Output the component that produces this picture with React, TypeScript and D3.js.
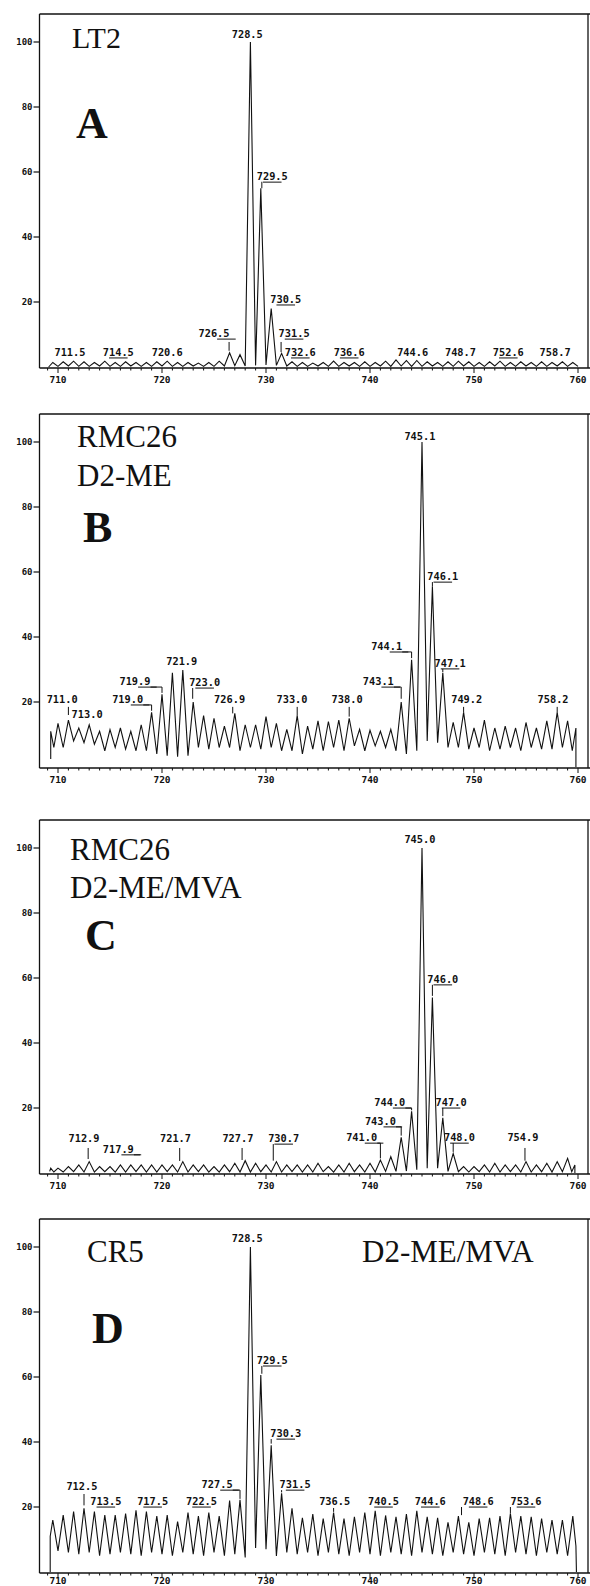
import * as d3 from "d3";

// m/z axis (shared by all four spectra)
const xTicks = [710, 720, 730, 740, 750, 760];
const yTicks = [20, 40, 60, 80, 100];

// ---- A: LT2 (peaks on the .5 grid) ----
const aPeakMz = d3.range(709.5, 760, 1);
const aPeaks = [
  1.4, 1.6, 1.8, 1.6, 1.4, 1.8, 1.4, 1.6, 1.4, 1.4,
  1.6, 1.8, 1.4, 1.4, 1.2, 1.4, 1.8, 4.4, 3.8, 100,
  55, 18, 4.2, 1.6, 1.4, 1.2, 1.4, 1.8, 1.4, 1.4,
  1.6, 1.4, 1.8, 2.2, 2.0, 2.0, 1.6, 1.4, 1.6, 1.8,
  1.6, 1.4, 1.6, 1.8, 1.4, 1.6, 1.4, 1.6, 1.4, 1.6,
  1.4,
];
const aValleys = [
  0.2, 0.3, 0.2, 0.2, 0.3, 0.2, 0.2, 0.3, 0.2, 0.2,
  0.3, 0.2, 0.2, 0.3, 0.2, 0.2, 0.3, 0.4, 0.3, 0.5,
  0.6, 0.5, 0.3, 0.2, 0.2, 0.3, 0.2, 0.2, 0.3, 0.2,
  0.2, 0.3, 0.2, 0.3, 0.2, 0.2, 0.3, 0.2, 0.2, 0.3,
  0.2, 0.2, 0.3, 0.2, 0.2, 0.3, 0.2, 0.2, 0.3, 0.2,
];
const aStart = [[709.1, 0]];
const aEnd = [[760.0, 0.2]];
const aLabels = [
  { t: "728.5", x: 728.2, y: 101.2 },
  { t: "7[29].5", x: 730.6, y: 57.5, c: [[729.6, 57], [729.6, 55]] },
  { t: "7[30].5", x: 731.9, y: 19.7 },
  { t: "726[.5]", x: 725.0, y: 9.2, c: [[726.45, 7.7], [726.45, 5.0]] },
  { t: "7[31].5", x: 732.7, y: 9.2, c: [[731.45, 7.7], [731.45, 4.6]] },
  { t: "711.5", x: 711.15, y: 3.4 },
  { t: "7[14].5", x: 715.8, y: 3.4 },
  { t: "720.6", x: 720.5, y: 3.4 },
  { t: "7[32].6", x: 733.3, y: 3.4 },
  { t: "7[36].6", x: 738.0, y: 3.4 },
  { t: "744.6", x: 744.1, y: 3.4 },
  { t: "748.7", x: 748.7, y: 3.4 },
  { t: "7[52].6", x: 753.3, y: 3.4 },
  { t: "758.7", x: 757.8, y: 3.4 },
];

// ---- B: RMC26 D2-ME (peaks on the integer grid) ----
const bPeakMz = d3.range(710, 760, 1);
const bPeaks = [
  13.4, 14.4, 12, 13, 11, 11.5, 12, 11, 13, 16.8,
  22.4, 29, 29.8, 20, 15.8, 15, 12.6, 16.5, 13, 13,
  15.5, 13.4, 11.6, 15.8, 12.6, 14.2, 14, 14.4, 15, 11.6,
  11.3, 11, 11.6, 20, 33, 100, 55.5, 29, 13.7, 16.8,
  12, 14.4, 12, 12.6, 12, 13.7, 12, 14.2, 16.8, 14.2,
];
const bValleys = [
  6, 8, 7.5, 7, 5, 6, 5.5, 5, 5,
  4, 3.5, 3.2, 3.5, 6, 5.5, 6, 6, 5, 6,
  5.5, 6, 5, 5, 4, 5.5, 5, 6, 5, 6.5,
  5, 6.5, 6, 5, 4, 5, 8, 7.5, 6, 6,
  5.5, 6, 5, 5.5, 6, 5, 6, 5.5, 5.5, 6,
];
const bStart = [[709.3, 2.5], [709.3, 11], [709.6, 6]];
const bEnd = [[759.45, 5], [759.8, 12], [759.8, 0]];
const bLabels = [
  { t: "711.0", x: 710.4, y: 19.7, c: [[711, 18.5], [711, 16]] },
  { t: "713.0", x: 712.8, y: 15.1 },
  { t: "719[.0]", x: 716.7, y: 19.7, c: [[718.2, 19.1], [719, 19.1], [719, 17.3]] },
  { t: "719[.9]", x: 717.4, y: 25.2, c: [[718.9, 24.6], [720, 24.6], [720, 22.8]] },
  { t: "721.9", x: 721.9, y: 31.4 },
  { t: "7[23].0", x: 724.1, y: 24.9, c: [[722.95, 24.3], [722.95, 21]] },
  { t: "726.9", x: 726.5, y: 19.7, c: [[726.8, 18.5], [726.8, 16.5]] },
  { t: "733.0", x: 732.5, y: 19.7, c: [[733, 18.5], [733, 15.8]] },
  { t: "738.0", x: 737.8, y: 19.7, c: [[738, 18.5], [738, 15.5]] },
  { t: "743[.1]", x: 740.8, y: 25.2, c: [[742.3, 24.6], [743, 24.6], [743, 21]] },
  { t: "744[.1]", x: 741.6, y: 36, c: [[743.1, 35.4], [744, 35.4], [744, 33.5]] },
  { t: "745.1", x: 744.8, y: 100.6 },
  { t: "7[46].1", x: 747.0, y: 57.5, c: [[746, 56.9], [746, 55.5]] },
  { t: "7[47].1", x: 747.7, y: 30.8, c: [[747, 30.2], [747, 29.2]] },
  { t: "749.2", x: 749.3, y: 19.7, c: [[749, 18.5], [749, 16.8]] },
  { t: "758.2", x: 757.6, y: 19.7, c: [[758, 18.5], [758, 16.8]] },
];

// ---- C: RMC26 D2-ME/MVA ----
const cPeakMz = d3.range(710, 760, 1);
const cPeaks = [
  1.5, 2, 2.5, 3.5, 2, 2, 2.5, 2.5, 2.5, 2.5,
  2.5, 2.5, 3.5, 2.5, 2.5, 2, 2.5, 3, 3.8, 3,
  2.5, 3.5, 2.5, 2.5, 2.5, 3, 2, 2.5, 3, 2.5,
  3, 4, 5, 11, 19, 100, 54, 17, 6, 2,
  2, 2.5, 3, 2.5, 2.5, 3.5, 2.5, 3, 3.5, 4.5,
];
const cValleys = [
  0.3, 0.4, 0.3, 0.3, 0.4, 0.3, 0.3, 0.4, 0.3, 0.3,
  0.4, 0.3, 0.3, 0.4, 0.3, 0.3, 0.4, 0.3, 0.3, 0.4,
  0.3, 0.3, 0.4, 0.3, 0.3, 0.4, 0.3, 0.3, 0.4, 0.3,
  0.3, 0.5, 0.5, 0.6, 1, 1.5, 1.5, 0.5, 0.4, 0.3,
  0.4, 0.3, 0.3, 0.4, 0.3, 0.3, 0.4, 0.3, 0.4,
];
const cStart = [[709.2, 0.5], [709.3, 1.5], [709.6, 0.3]];
const cEnd = [[759.4, 0.4], [759.7, 2.5], [759.7, 0]];
const cLabels = [
  { t: "712.9", x: 712.5, y: 9.5, c: [[712.9, 7.7], [712.9, 4.3]] },
  { t: "717[.9]", x: 715.8, y: 6.2, c: [[717.3, 5.6], [718, 5.6]] },
  { t: "721.7", x: 721.3, y: 9.5, c: [[721.7, 7.7], [721.7, 3.7]] },
  { t: "727.7", x: 727.3, y: 9.5, c: [[727.7, 7.7], [727.7, 4]] },
  { t: "7[30].7", x: 731.7, y: 9.5, c: [[730.7, 8.9], [730.7, 3.8]] },
  { t: "741[.0]", x: 739.2, y: 9.8, c: [[740.7, 9.2], [741, 9.2], [741, 4.5]] },
  { t: "743[.0]", x: 741.0, y: 14.8, c: [[742.5, 14.2], [743, 14.2], [743, 11.5]] },
  { t: "744[.0]", x: 741.9, y: 20.6, c: [[743.4, 20], [744, 20], [744, 19.3]] },
  { t: "745.0", x: 744.8, y: 101.5 },
  { t: "7[46].0", x: 747.0, y: 58.5, c: [[746, 57.9], [746, 54.5]] },
  { t: "7[47].0", x: 747.8, y: 20.6, c: [[747, 20], [747, 17.5]] },
  { t: "7[48].0", x: 748.6, y: 9.8, c: [[748, 9.2], [748, 6.5]] },
  { t: "754.9", x: 754.7, y: 9.8, c: [[754.9, 7.7], [754.9, 3.8]] },
];

// ---- D: CR5 D2-ME/MVA (peaks on the .5 grid) ----
const dPeakMz = d3.range(709.5, 760, 1);
const dPeaks = [
  16, 17.5, 18.6, 19.6, 18.6, 17.5, 17.5, 18, 19, 18.6,
  17.2, 17.5, 15.5, 18.3, 17.2, 18.3, 17.2, 22, 22.2, 100,
  60.6, 39, 24.2, 19.6, 16.7, 17.8, 16.4, 18.3, 16.4, 17,
  18.3, 18.8, 17.4, 17, 17.8, 18.8, 17, 16.7, 15.3, 17.2,
  15.3, 16.4, 16.7, 17.2, 18, 17.2, 17, 16.4, 16, 16,
  17.2,
];
const dValleys = [
  6.5, 6, 5.5, 6, 5, 5.5, 6, 5.5, 5, 6,
  5.5, 5, 6, 5.5, 5, 6, 5, 5.5, 4.5, 7.4,
  7, 4.9, 6, 5.5, 6, 5, 6, 5.5, 5, 6,
  5.5, 5, 6, 5.5, 5, 6, 5.5, 5, 6, 5.5,
  5, 6, 5.5, 5, 6, 5.5, 5, 6, 5.5, 5,
];
const dStart = [[709.25, 0], [709.25, 11]];
const dEnd = [[759.8, 8], [759.85, 0]];
const dLabels = [
  { t: "728.5", x: 728.2, y: 101.5 },
  { t: "7[29].5", x: 730.6, y: 64, c: [[729.6, 63.4], [729.6, 61]] },
  { t: "7[30].3", x: 731.9, y: 41.5, c: [[730.5, 40.9], [730.5, 39.5]] },
  { t: "7[31].5", x: 732.8, y: 25.8, c: [[731.5, 25.2], [731.5, 24.5]] },
  { t: "712.5", x: 712.3, y: 25.2, c: [[712.5, 24], [712.5, 20.5]] },
  { t: "7[13].5", x: 714.6, y: 20.6 },
  { t: "7[17].5", x: 719.1, y: 20.6 },
  { t: "7[22].5", x: 723.8, y: 20.6 },
  { t: "727[.5]", x: 725.3, y: 25.8, c: [[726.8, 25.2], [727.5, 25.2], [727.5, 22.5]] },
  { t: "736.5", x: 736.6, y: 20.6, c: [[736.5, 19.7], [736.5, 18.5]] },
  { t: "7[40].5", x: 741.3, y: 20.6 },
  { t: "7[44].6", x: 745.8, y: 20.6 },
  { t: "7[48].6", x: 750.4, y: 20.6, c: [[748.8, 20], [748.8, 17.5]] },
  { t: "7[53].6", x: 755.0, y: 20.6, c: [[753.5, 20], [753.5, 18]] },
];

const panels = [
  {
    top: 42, peakMz: aPeakMz, peaks: aPeaks, valleys: aValleys, start: aStart, end: aEnd, labels: aLabels,
    titles: [
      { t: "LT2", x: 72, y: 48, size: 30, bold: false },
      { t: "A", x: 76, y: 138, size: 44, bold: true },
    ],
  },
  {
    top: 442, peakMz: bPeakMz, peaks: bPeaks, valleys: bValleys, start: bStart, end: bEnd, labels: bLabels,
    titles: [
      { t: "RMC26", x: 77, y: 447, size: 31, bold: false },
      { t: "D2-ME", x: 77, y: 486, size: 31, bold: false },
      { t: "B", x: 83, y: 542, size: 44, bold: true },
    ],
  },
  {
    top: 848, peakMz: cPeakMz, peaks: cPeaks, valleys: cValleys, start: cStart, end: cEnd, labels: cLabels,
    titles: [
      { t: "RMC26", x: 70, y: 860, size: 31, bold: false },
      { t: "D2-ME/MVA", x: 70, y: 898, size: 31, bold: false },
      { t: "C", x: 85, y: 950, size: 44, bold: true },
    ],
  },
  {
    top: 1247, peakMz: dPeakMz, peaks: dPeaks, valleys: dValleys, start: dStart, end: dEnd, labels: dLabels,
    titles: [
      { t: "CR5", x: 87, y: 1262, size: 31, bold: false },
      { t: "D2-ME/MVA", x: 362, y: 1262, size: 31, bold: false },
      { t: "D", x: 92, y: 1343, size: 44, bold: true },
    ],
  },
];

const MONO = "'DejaVu Sans Mono', 'Liberation Mono', monospace";
const SERIF = "'Liberation Serif', 'DejaVu Serif', serif";
const FS = 10.3;
const CW = FS * 0.602;
const PLOT_H = 325;
const AXIS_L = 39.5;
const AXIS_R = 588;
const PAGE_H = 1586;

const xs = d3.scaleLinear().domain([710, 760]).range([58, 578]);

function parseLabel(s: string) {
  const a = s.indexOf("[");
  const b = s.indexOf("]");
  const plain = s.replace("[", "").replace("]", "");
  return { plain, u0: a, u1: a >= 0 ? b - 1 : -1 };
}

function Panel({ p }: { p: any }) {
  const y0 = p.top + PLOT_H;
  const ys = d3.scaleLinear().domain([0, 100]).range([y0, p.top]);
  const line = d3.line<number[]>().x(d => xs(d[0])).y(d => ys(d[1]));

  const pts: number[][] = [...p.start];
  p.peakMz.forEach((m: number, i: number) => {
    pts.push([m, p.peaks[i]]);
    if (i < p.valleys.length) pts.push([m + 0.5, p.valleys[i]]);
  });
  pts.push(...p.end);

  const frameTop = p.top - 28;
  const minor = d3.range(709, 761);
  // keep the bottom axis numbers on the page
  const tickLabelY = Math.min(y0 + 16, PAGE_H - 2);

  return (
    <g>
      {/* frame */}
      <line x1={AXIS_L} x2={590} y1={frameTop} y2={frameTop} stroke="#111" strokeWidth={1.6} />
      <line x1={AXIS_L} x2={AXIS_L} y1={frameTop} y2={y0 + 1} stroke="#111" strokeWidth={1.3} />
      <line x1={AXIS_R} x2={AXIS_R} y1={frameTop} y2={y0 + 1} stroke="#111" strokeWidth={1.3} />
      <line x1={AXIS_L} x2={590} y1={y0 + 1} y2={y0 + 1} stroke="#111" strokeWidth={1.6} />

      {/* y axis */}
      {yTicks.map(t => (
        <g key={t}>
          <line x1={AXIS_L - 6} x2={AXIS_L} y1={ys(t)} y2={ys(t)} stroke="#111" strokeWidth={1.2} />
          <text x={AXIS_L - 7} y={ys(t)} dy="0.35em" textAnchor="end" fontFamily={MONO} fontWeight="bold" fontSize={9} fill="#111">
            {t}
          </text>
        </g>
      ))}

      {/* x axis */}
      {minor.map(m => (
        <line key={m} x1={xs(m)} x2={xs(m)} y1={y0 + 1} y2={y0 + (m % 10 === 0 ? 6 : 3.5)} stroke="#111" strokeWidth={1} />
      ))}
      {xTicks.map(t => (
        <text key={t} x={xs(t)} y={tickLabelY} textAnchor="middle" fontFamily={MONO} fontWeight="bold" fontSize={9.5} fill="#111">
          {t}
        </text>
      ))}

      {/* spectrum */}
      <path d={line(pts) || ""} fill="none" stroke="#111" strokeWidth={1.1} strokeLinejoin="miter" />

      {/* peak labels */}
      {p.labels.map((lab: any, i: number) => {
        const { plain, u0, u1 } = parseLabel(lab.t);
        const cx = xs(lab.x);
        const by = ys(lab.y);
        const left = cx - (plain.length * CW) / 2;
        return (
          <g key={i}>
            <text x={cx} y={by} textAnchor="middle" fontFamily={MONO} fontWeight="bold" fontSize={FS} fill="#111">
              {plain}
            </text>
            {u0 >= 0 && (
              <line x1={left + u0 * CW} x2={left + (u1 + 1) * CW} y1={by + 2} y2={by + 2} stroke="#111" strokeWidth={1} />
            )}
            {lab.c && <path d={line(lab.c) || ""} fill="none" stroke="#111" strokeWidth={1} />}
          </g>
        );
      })}

      {/* titles */}
      {p.titles.map((t: any, i: number) => (
        <text key={i} x={t.x} y={t.y} fontFamily={SERIF} fontWeight={t.bold ? "bold" : "normal"} fontSize={t.size} fill="#111">
          {t.t}
        </text>
      ))}
    </g>
  );
}

export default function App() {
  return (
    <svg width={590} height={1586} viewBox="0 0 590 1586" style={{ position: "absolute", left: 0, top: 0, background: "#fff" }}>
      <rect width={590} height={1586} fill="#fff" />
      {panels.map((p, i) => (
        <Panel key={i} p={p} />
      ))}
    </svg>
  );
}
